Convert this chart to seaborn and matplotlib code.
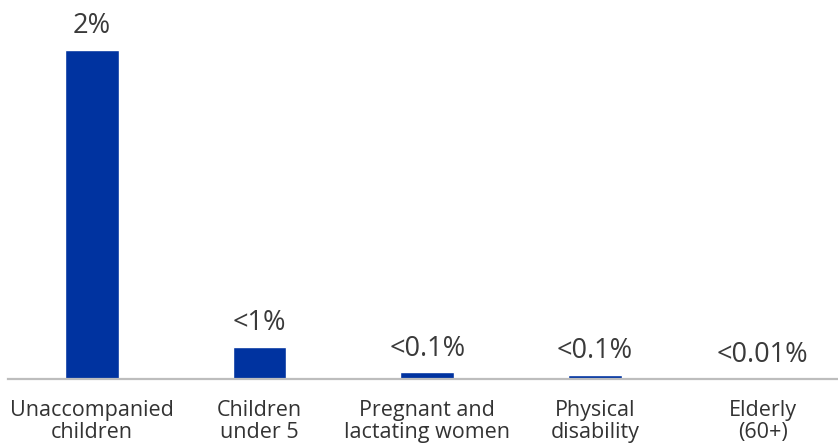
import matplotlib
matplotlib.use("Agg")
import matplotlib.pyplot as plt
import seaborn as sns
import pandas as pd

# data
categories = ["Unaccompanied\nchildren", "Children\nunder 5", "Pregnant and\nlactating women",
              "Physical\ndisability", "Elderly\n(60+)"]
values = [2.0, 0.195, 0.04, 0.024, 0.001]
value_labels = ["2%", "<1%", "<0.1%", "<0.1%", "<0.01%"]

sns.set_theme(style="white")
plt.rcParams['font.family'] = ['Open Sans', 'DejaVu Sans']

df = pd.DataFrame({"group": categories, "share": values})

fig = plt.figure(figsize=(8.38, 4.45), dpi=100)
ax = fig.add_axes([8 / 838, (445 - 379) / 445, 1 - 8 / 838, (379 - 50) / 445])

sns.barplot(data=df, x="group", y="share", color="#0033a0", width=0.32,
            saturation=1, ax=ax)

ax.set_ylim(0, 2.0)
ax.set_xlim(-0.5, 4.45)
ax.set_xlabel("")
ax.set_ylabel("")
ax.set_yticks([])
for s in ["top", "right", "left"]:
    ax.spines[s].set_visible(False)
ax.spines["bottom"].set_color("#bdbdbd")
ax.spines["bottom"].set_linewidth(1.6)
ax.tick_params(axis="x", length=0, pad=15, labelsize=15.5, colors="#333333")
for t in ax.get_xticklabels():
    t.set_linespacing(1.1)

# value labels above the bars
for i, (v, lab) in enumerate(zip(values, value_labels)):
    ax.annotate(lab, (i, v), xytext=(0, 7), textcoords="offset points",
                ha="center", va="bottom", fontsize=19.5, color="#3a3a3a",
                annotation_clip=False)

fig.savefig("out.png", dpi=100)
